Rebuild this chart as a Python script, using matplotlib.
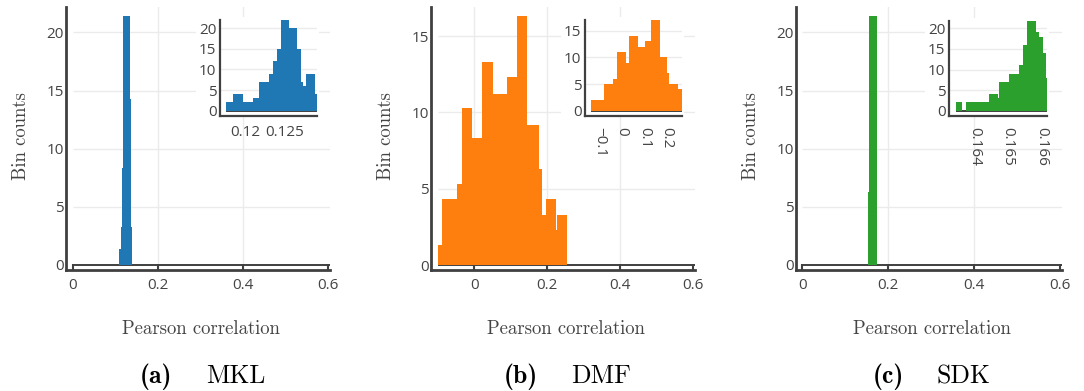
import matplotlib.pyplot as plt
from matplotlib.patches import Rectangle

# main histograms (edges / heights)
mkl_edges = [0.1095, 0.1127, 0.115, 0.1174, 0.1346, 0.1369, 0.1393]
mkl_counts = [1.4, 3.3, 8.3, 21.4, 14.3, 3.3]
dmf_edges = [-0.1, -0.0877, -0.0482, -0.0329, -0.0055, 0.0219, 0.0512, 0.0888,
             0.1170, 0.1436, 0.1781, 0.1845, 0.1956, 0.2238, 0.2274, 0.2548]
dmf_counts = [1.3, 4.3, 5.3, 10.3, 8.3, 13.3, 11.2, 12.3, 16.3, 9.2, 6.3, 3.3, 4.3, 2.3, 3.3]
sdk_edges = [0.1523, 0.1553, 0.1733]
sdk_counts = [6.3, 21.4]

# zoomed insets
mkl_in_edges = [0.11763, 0.11854, 0.11979, 0.12104, 0.12179, 0.12304, 0.12354, 0.12404,
                0.12454, 0.12554, 0.12654, 0.12696, 0.12721, 0.12763, 0.12875, 0.129]
mkl_in_counts = [2, 4, 2, 3, 7, 9, 12, 15, 22, 20, 15, 7, 6, 9, 4]
dmf_in_edges = [-0.1366, -0.0789, -0.0377, -0.0226, 0.0186, 0.0319, 0.0732, 0.1042,
                0.1282, 0.1694, 0.1991, 0.2106, 0.2492, 0.2670]
dmf_in_counts = [2, 5, 6, 11, 9, 14, 12, 13, 17, 10, 7, 5, 4]
sdk_in_edges = [0.163454, 0.163632, 0.163742, 0.164424, 0.164709, 0.164739, 0.165018,
                0.165332, 0.165433, 0.165552, 0.165828, 0.165926, 0.166045, 0.166125, 0.166145]
sdk_in_counts = [2, 0, 2, 4, 3, 7, 9, 11, 16, 22, 19, 18, 14, 8]

main_xticks = [0, 0.2, 0.4, 0.6]
main_xlabels = ['0', '0.2', '0.4', '0.6']
in_xticks = [[0.12, 0.125], [-0.1, 0, 0.1, 0.2], [0.164, 0.165, 0.166]]
in_xlabels = [['0.12', '0.125'], ['\u22120.1', '0', '0.1', '0.2'], ['0.164', '0.165', '0.166']]
names = ['MKL', 'DMF', 'SDK']
letters = ['(a)', '(b)', '(c)']
colors = ['#1f77b4', '#ff7f0e', '#2ca02c']

W, H = 1084, 391
DARK = '#404040'
GRID = '#ebebeb'
TXT = '#444444'
TICKFONT = 'Open Sans'

fig = plt.figure(figsize=(W / 100, H / 100), dpi=100)


def px_rect(left, right, top, bottom):
    # pixel box (origin top-left) -> figure fraction rect
    return [left / W, 1 - bottom / H, (right - left) / W, (bottom - top) / H]


def style_axes(ax, spine_w):
    for s in ['top', 'right']:
        ax.spines[s].set_visible(False)
    for s in ['left', 'bottom']:
        ax.spines[s].set_color(DARK)
        ax.spines[s].set_linewidth(spine_w)
    for lab in ax.get_xticklabels() + ax.get_yticklabels():
        lab.set_fontfamily(TICKFONT)
        lab.set_fontsize(11)
        lab.set_color(TXT)


# main panels: (spine left px, right px, xlim, ylim, x start of grid/zero line)
mains = [
    (65.7, 329.7, (-0.0164, 0.6033), (-0.456, 22.21), 0.0, [0, 5, 10, 15, 20]),
    (430.7, 694.7, (-0.1195, 0.6038), (-0.347, 16.92), -0.1, [0, 5, 10, 15]),
    (795.7, 1061.7, (-0.0154, 0.6047), (-0.456, 22.21), 0.0, [0, 5, 10, 15, 20]),
]
main_data = [(mkl_edges, mkl_counts), (dmf_edges, dmf_counts), (sdk_edges, sdk_counts)]

insets = [
    (220, 317, 20, 116.3, (0.11688, 0.129), (-1.36, 22.0), [0, 5, 10, 15, 20], 0),
    (585, 682, 20, 116.3, (-0.1632, 0.267), (-1.05, 17.02), [0, 5, 10, 15], -90),
    (949, 1046.7, 20.7, 116.3, (0.163246, 0.166145), (-1.36, 21.85), [0, 5, 10, 15, 20], -90),
]
in_data = [(mkl_in_edges, mkl_in_counts), (dmf_in_edges, dmf_in_counts), (sdk_in_edges, sdk_in_counts)]

for i in range(3):
    left, right, xlim, ylim, x0, yticks = mains[i]
    edges, counts = main_data[i]
    ax = fig.add_axes(px_rect(left, right, 6.7, 270.3))
    ax.set_xlim(xlim)
    ax.set_ylim(ylim)
    for yt in yticks[1:]:
        ax.hlines(yt, x0, xlim[1], color=GRID, lw=1.0, zorder=0)
    for xt in main_xticks:
        if xlim[0] < xt < 0.6 and xt != x0:
            ax.axvline(xt, color=GRID, lw=1.0, zorder=0)
    ax.hlines(0, x0, xlim[1], color=DARK, lw=1.4, zorder=1)
    ax.stairs(counts, edges, fill=True, color=colors[i], lw=0, zorder=2)
    ax.set_xticks(main_xticks)
    ax.set_xticklabels(main_xlabels)
    ax.set_yticks(yticks)
    ax.set_yticklabels([str(v) for v in yticks])
    ax.tick_params(axis='x', direction='in', length=4, width=1.5, color=DARK, pad=5.5)
    ax.tick_params(axis='y', length=0, pad=1.5)
    style_axes(ax, 2.0)

    cx = left + 7 + 0.5 * (right - left - 8)
    fig.text((left - 45) / W, 1 - 136 / H, 'Bin counts', rotation=90, ha='center', va='center',
             fontfamily='cmr10', fontsize=13.5, color=TXT)
    fig.text(cx / W, 1 - 334 / H, 'Pearson correlation', ha='center', va='baseline',
             fontfamily='cmr10', fontsize=13.5, color=TXT)
    fig.text((cx - 28) / W, 1 - 383 / H, letters[i], ha='right', va='baseline',
             fontfamily='cmb10', fontsize=18.5, color='black')
    fig.text((cx + 5) / W, 1 - 383 / H, names[i], ha='left', va='baseline',
             fontfamily='cmr10', fontsize=18.5, color='black')

    # inset
    ileft, iright, itop, ibot, ixlim, iylim, iyticks, rot = insets[i]
    edges, counts = in_data[i]
    fig.add_artist(Rectangle(((ileft - 24) / W, 1 - (ibot + 1) / H), (iright - ileft + 26) / W,
                             (ibot - itop + 4) / H, transform=fig.transFigure,
                             facecolor='white', edgecolor='none', zorder=1))
    axi = fig.add_axes(px_rect(ileft, iright, itop, ibot))
    axi.set_zorder(2)
    axi.set_xlim(ixlim)
    axi.set_ylim(iylim)
    for yt in iyticks[1:]:
        axi.axhline(yt, color=GRID, lw=1.0, zorder=0)
    axi.hlines(0, edges[0], ixlim[1], color=DARK, lw=1.4, zorder=1)
    axi.stairs(counts, edges, fill=True, color=colors[i], lw=0, zorder=2)
    axi.set_xticks(in_xticks[i])
    axi.set_xticklabels(in_xlabels[i], rotation=rot)
    axi.set_yticks(iyticks)
    axi.set_yticklabels([str(v) for v in iyticks])
    axi.tick_params(axis='x', length=0, pad=6 if rot == 0 else 7.5)
    axi.tick_params(axis='y', length=0, pad=2.5)
    style_axes(axi, 1.6)

fig.savefig('out.png', dpi=100)
